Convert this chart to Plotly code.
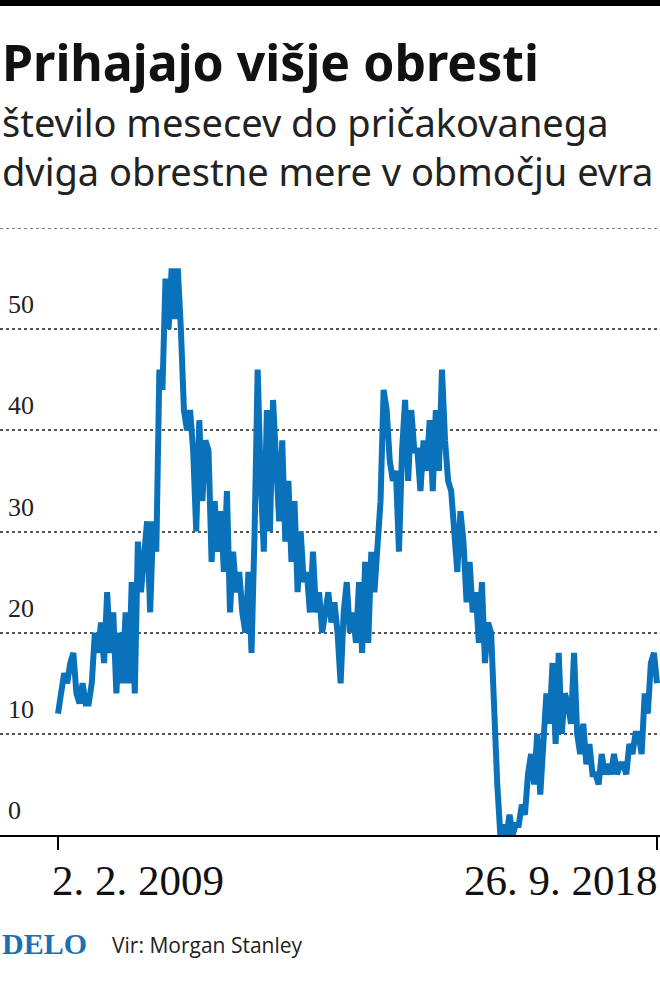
import plotly.graph_objects as go
import pandas as pd

start_date = "2009-02-02"
end_date = "2018-09-26"
values = [12,14,16,15,17,18,14,13,15,13,13,15,20,18,21,17,24,18,22,14,20,15,22,15,25,14,29,24,27,31,22,31,28,46,44,55,50,56,51,56,50,42,40,42,38,30,41,33,39,38,27,33,28,32,26,34,22,28,24,26,22,20,26,18,30,46,35,28,42,30,43,38,31,39,29,35,27,33,24,30,25,26,22,28,22,24,20,22,24,21,23,20,15,22,25,20,22,19,25,18,27,19,28,24,29,33,44,42,37,35,36,28,38,43,35,42,38,38,34,39,36,41,34,42,36,46,39,35,34,30,26,32,29,23,27,22,24,19,25,17,21,20,12,5,0,1,0,2,0,1,1,3,2,6,8,5,10,4,9,14,11,17,9,18,10,14,13,11,18,10,8,11,7,9,6,6,5,8,6,7,6,8,6,7,7,6,9,8,10,10,8,14,12,17,18,15]
dates = pd.date_range(start_date, end_date, periods=len(values))
y_labels = [0, 10, 20, 30, 40, 50]
x_labels = ["2. 2. 2009", "26. 9. 2018"]

blue = "#0a72bb"
fig = go.Figure(go.Scatter(x=dates, y=values, mode="lines",
                           line=dict(color=blue, width=6), hoverinfo="skip"))

s = pd.Timestamp(start_date); e = pd.Timestamp(end_date)
dpp = (e - s) / 599
fig.update_layout(
    width=660, height=985, margin=dict(l=0, r=0, t=228, b=150),
    paper_bgcolor="white", plot_bgcolor="white", showlegend=False,
    xaxis=dict(range=[s - dpp * 58, e + dpp * 3], tickvals=[s, e], ticktext=["", ""],
               ticks="outside", ticklen=13, tickwidth=2, tickcolor="black",
               showgrid=False, showline=True, linecolor="black", linewidth=2, zeroline=False),
    yaxis=dict(range=[0, 60], tickvals=[10, 20, 30, 40, 50, 60], showticklabels=False,
               showgrid=True, gridcolor="#555", griddash="dot", gridwidth=1.5,
               zeroline=False, showline=False),
)
fig.add_shape(type="line", xref="paper", yref="y", x0=0, x1=1, y0=60, y1=60,
              line=dict(color="#555", width=1.5, dash="dot"), layer="below")
fig.add_shape(type="rect", xref="paper", yref="paper", x0=0, x1=1,
              y0=1 + 222 / 607, y1=1 + 228 / 607, fillcolor="black", line_width=0)

ann = []
for v in y_labels:
    ann.append(dict(x=0, xref="paper", xanchor="left", xshift=6, y=v, yref="y",
                    yanchor="bottom", yshift=8, text=str(v), showarrow=False,
                    font=dict(family="Liberation Serif", size=26, color="#222")))
ann.append(dict(x=s, xref="x", xanchor="left", xshift=-8, y=0, yref="y", yanchor="top",
                yshift=-20, text=x_labels[0], showarrow=False,
                font=dict(family="Liberation Serif", size=43, color="#111")))
ann.append(dict(x=e, xref="x", xanchor="right", xshift=3, y=0, yref="y", yanchor="top",
                yshift=-20, text=x_labels[1], showarrow=False,
                font=dict(family="Liberation Serif", size=43, color="#111")))
ann.append(dict(x=0, xref="paper", xanchor="left", xshift=0, y=1, yref="paper",
                yanchor="top", yshift=202, text="<b>Prihajajo višje obresti</b>",
                showarrow=False, font=dict(family="Noto Sans", size=50, color="#111")))
ann.append(dict(x=0, xref="paper", xanchor="left", xshift=0, y=1, yref="paper",
                yanchor="top", yshift=134, align="left",
                text="število mesecev do pričakovanega<br>dviga obrestne mere v območju evra",
                showarrow=False, font=dict(family="Noto Sans", size=38, color="#222")))
ann.append(dict(x=0, xref="paper", xanchor="left", xshift=0, y=0, yref="paper",
                yanchor="top", yshift=-90, text="<b>DELO</b>", showarrow=False,
                font=dict(family="Liberation Serif", size=30, color="#1b6fb5")))
ann.append(dict(x=0, xref="paper", xanchor="left", xshift=110, y=0, yref="paper",
                yanchor="top", yshift=-94, text="Vir: Morgan Stanley", showarrow=False,
                font=dict(family="Open Sans", size=21, color="#222")))
fig.update_layout(annotations=ann)
fig.write_html("out.html", config={"displayModeBar": False})
with open("out.html") as f:
    html = f.read()
html = html.replace("<head>", "<head><style>body{margin:0;overflow:hidden}</style>", 1)
with open("out.html", "w") as f:
    f.write(html)
